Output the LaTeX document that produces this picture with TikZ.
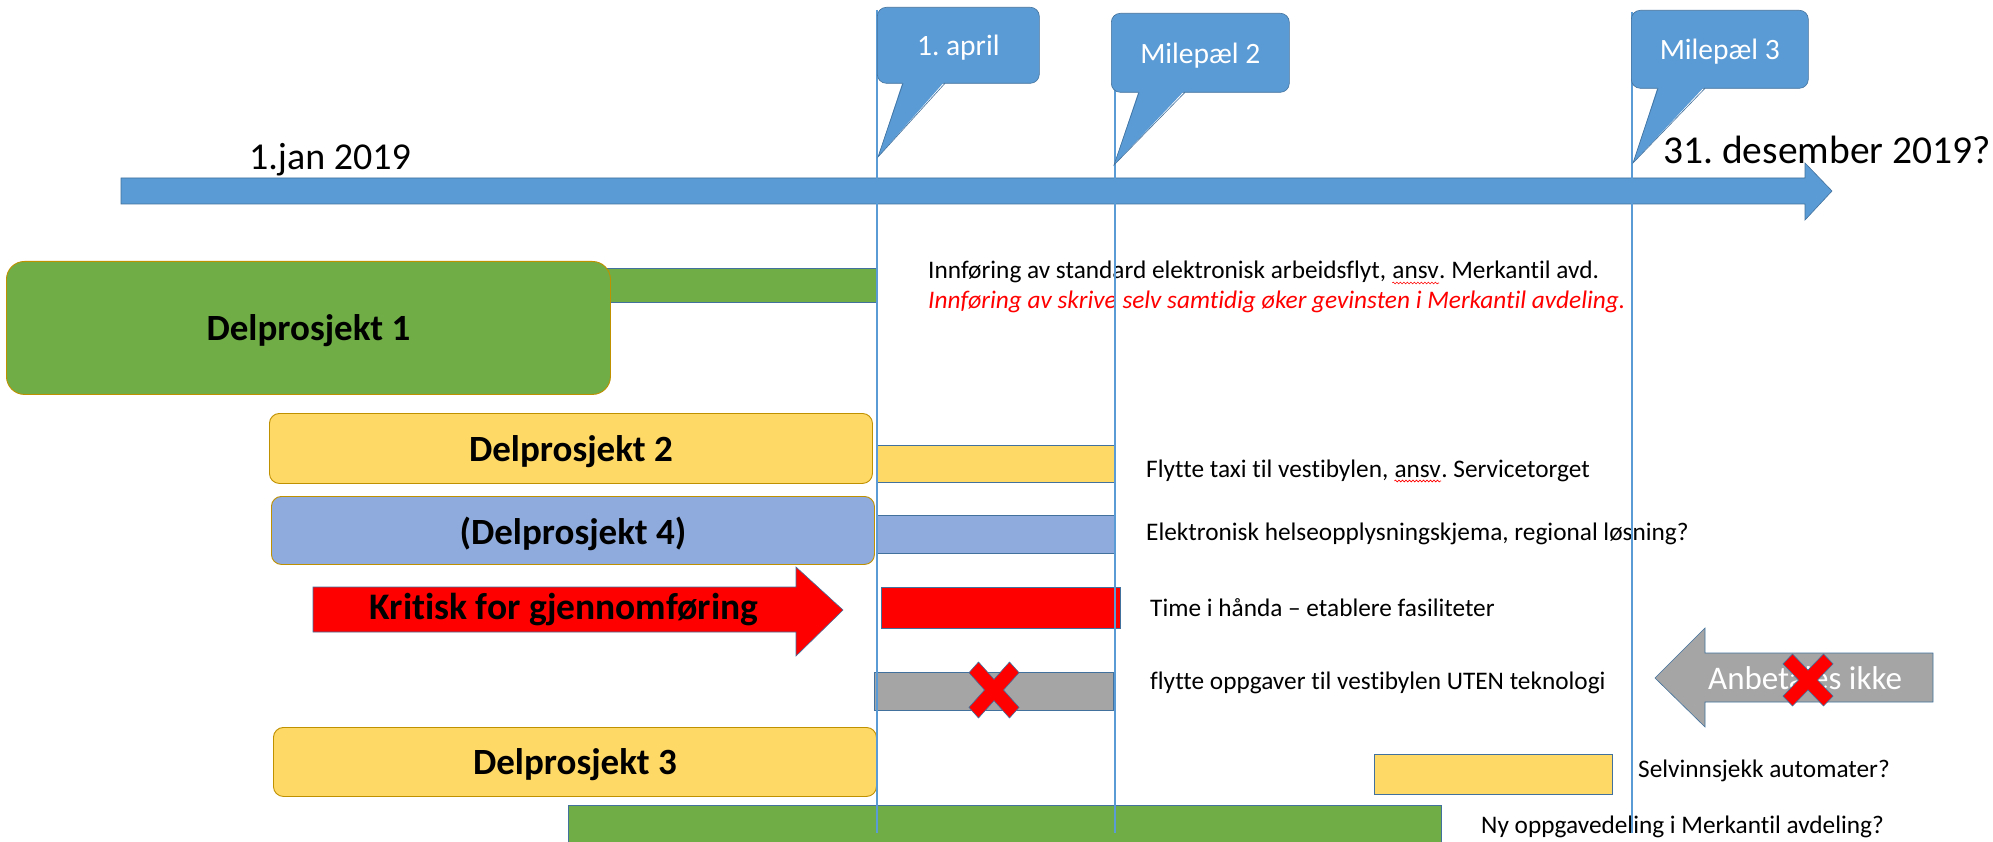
\documentclass[tikz,border=0pt]{standalone}
\usepackage{fontspec}
\setmainfont{Carlito}[Ligatures={NoCommon}]
\usetikzlibrary{decorations.pathmorphing}
\definecolor{tlblue}{HTML}{5B9BD5}
\definecolor{barline}{HTML}{41719C}
\definecolor{dpgreen}{HTML}{70AD47}
\definecolor{dpyellow}{HTML}{FFD966}
\definecolor{dplav}{HTML}{8FAADC}
\definecolor{dpgray}{HTML}{A5A5A5}
\definecolor{gold}{HTML}{BF9000}
\definecolor{pred}{HTML}{FF0000}
\frenchspacing
\tikzset{
  bar/.style={draw=barline, line width=0.8pt, anchor=north west, inner sep=0pt},
  dpbox/.style={draw=gold, line width=0.9pt, rounded corners=10pt, anchor=north west, inner sep=0pt,
     font=\fontsize{37}{44}\selectfont\bfseries, text=black, text depth=0pt},
  desc/.style={anchor=west, inner sep=0pt, font=\fontsize{25.3}{30}\selectfont, text=black},
  descb/.style={desc, anchor=base west},
  squig/.style={draw=pred, line width=0.6pt, decorate, decoration={snake, amplitude=0.9pt, segment length=3.5pt}},
  callbox/.style={fill=tlblue, draw=barline, line width=0.6pt, rounded corners=9pt, anchor=north west,
     inner sep=0pt, text=white, font=\fontsize{29.5}{34}\selectfont, text depth=0pt},
  vline/.style={draw=tlblue, line width=1.2pt},
  redx/.pic={\draw[fill=pred, draw=barline, line width=0.6pt]
     (-1,-0.62) -- (-0.62,-1) -- (0,-0.38) -- (0.62,-1) -- (1,-0.62) -- (0.38,0) -- (1,0.62)
     -- (0.62,1) -- (0,0.38) -- (-0.62,1) -- (-1,0.62) -- (-0.38,0) -- cycle;}
}
\begin{document}
\begin{tikzpicture}[x=1pt,y=-1pt]
\useasboundingbox (0,0) rectangle (1993,842);
\fill[white] (0,0) rectangle (1993,842);

% main timeline arrow
\draw[fill=tlblue, draw=barline, line width=0.6pt]
  (121,178) -- (1805,178) -- (1805,163) -- (1832,191) -- (1805,220) -- (1805,204) -- (121,204) -- cycle;
\node[font=\fontsize{38}{46}\selectfont, inner sep=0pt] (start) at (330,160) {1.jan 2019};
\node[font=\fontsize{39.5}{46}\selectfont, inner sep=0pt] (end) at (1827,150) {31. desember 2019?};

% bars
\node[bar, fill=dpgreen, minimum width=287pt, minimum height=34pt] (b1) at (590,268) {};
\node[bar, fill=dpyellow, minimum width=238pt, minimum height=37pt] (b2) at (877,445) {};
\node[bar, fill=dplav, minimum width=238pt, minimum height=38pt] (b4) at (877,515) {};
\node[bar, fill=pred, minimum width=239pt, minimum height=41pt] (bk) at (881,587) {};
\node[bar, fill=dpgray, minimum width=239pt, minimum height=38pt] (bg) at (874,672) {};
\node[bar, fill=dpyellow, minimum width=238pt, minimum height=40pt] (b3) at (1374,754) {};
\node[bar, fill=dpgreen, minimum width=873pt, minimum height=50pt] (b5) at (568,805) {};

% project boxes
\node[dpbox, fill=dpgreen, rounded corners=18pt, minimum width=604pt, minimum height=133pt] (dp1) at (6,261) {Delprosjekt 1};
\node[dpbox, fill=dpyellow, minimum width=603pt, minimum height=70pt] (dp2) at (269,413) {Delprosjekt 2};
\node[dpbox, fill=dplav, minimum width=603pt, minimum height=68pt] (dp4) at (271,496) {(Delprosjekt 4)};
\node[dpbox, fill=dpyellow, minimum width=603pt, minimum height=69pt] (dp3) at (273,727) {Delprosjekt 3};

% critical arrow
\draw[fill=pred, draw=barline, line width=0.6pt]
  (313,587) -- (796,587) -- (796,567) -- (843,610) -- (796,656) -- (796,632) -- (313,632) -- cycle;
\node[font=\fontsize{37.5}{44}\selectfont\bfseries, inner sep=0pt] (krit) at (564,610) {Kritisk for gjennomføring};

% not paid arrow
\draw[fill=dpgray, draw=barline, line width=0.6pt]
  (1933,653) -- (1705,653) -- (1705,628) -- (1655,678) -- (1705,727) -- (1705,702) -- (1933,702) -- cycle;
\node[font=\fontsize{33}{40}\selectfont, text=white, inner sep=0pt] (anb) at (1805,678) {Anbetales ikke};

% descriptions
\node[descb] (t1) at (928,279) {Innføring av standard elektronisk arbeidsflyt,};
\node[descb] (t1s) at ([xshift=5.7pt]t1.base east) {ansv};
\node[descb] (t1e) at (t1s.base east) {.\ Merkantil avd.};
\draw[squig] ([yshift=-4pt]t1s.base west) -- ([yshift=-4pt]t1s.base east);
\node[desc, text=pred, font=\fontsize{25.3}{30}\selectfont\itshape] (t1b) at (928,302) {Innføring av skrive selv samtidig øker gevinsten i Merkantil avdeling.};
\node[descb] (t2) at (1146,477) {Flytte taxi til vestibylen,};
\node[descb] (t2s) at ([xshift=5.7pt]t2.base east) {ansv};
\node[descb] (t2e) at (t2s.base east) {.\ Servicetorget};
\draw[squig] ([yshift=-4pt]t2s.base west) -- ([yshift=-4pt]t2s.base east);
\node[desc] (t4) at (1146,534) {Elektronisk helseopplysningskjema, regional løsning?};
\node[desc] (tk) at (1150,608) {Time i hånda – etablere fasiliteter};
\node[desc] (tg) at (1150,683) {flytte oppgaver til vestibylen UTEN teknologi};
\node[desc] (t3) at (1638,771) {Selvinnsjekk automater?};
\node[desc] (t5) at (1481,827) {Ny oppgavedeling i Merkantil avdeling?};

% milestone lines
\draw[vline] (877,10) -- (877,833);
\draw[vline] (1115,15) -- (1115,833);
\draw[vline] (1632,12) -- (1632,833);

% red crosses
\pic[xscale=25, yscale=28] at (994,690) {redx};
\pic[xscale=25, yscale=26] at (1808,680) {redx};

% callouts
\node[callbox, minimum width=162pt, minimum height=76pt] (c1) at (877,7) {1. april};
\fill[tlblue] (903,81) -- (878,157) -- (945,81) -- cycle;
\draw[barline, line width=0.6pt] (903,83.3) -- (878,157) -- (945,83.3);
\node[callbox, minimum width=178pt, minimum height=79pt] (c2) at (1111,13) {Milepæl 2};
\fill[tlblue] (1139,90) -- (1114,165) -- (1185,90) -- cycle;
\draw[barline, line width=0.6pt] (1139,92.3) -- (1114,165) -- (1185,92.3);
\node[callbox, minimum width=177pt, minimum height=78pt] (c3) at (1631,10) {Milepæl 3};
\fill[tlblue] (1658,86) -- (1633,163) -- (1705,86) -- cycle;
\draw[barline, line width=0.6pt] (1658,88.3) -- (1633,163) -- (1705,88.3);
\end{tikzpicture}
\end{document}
